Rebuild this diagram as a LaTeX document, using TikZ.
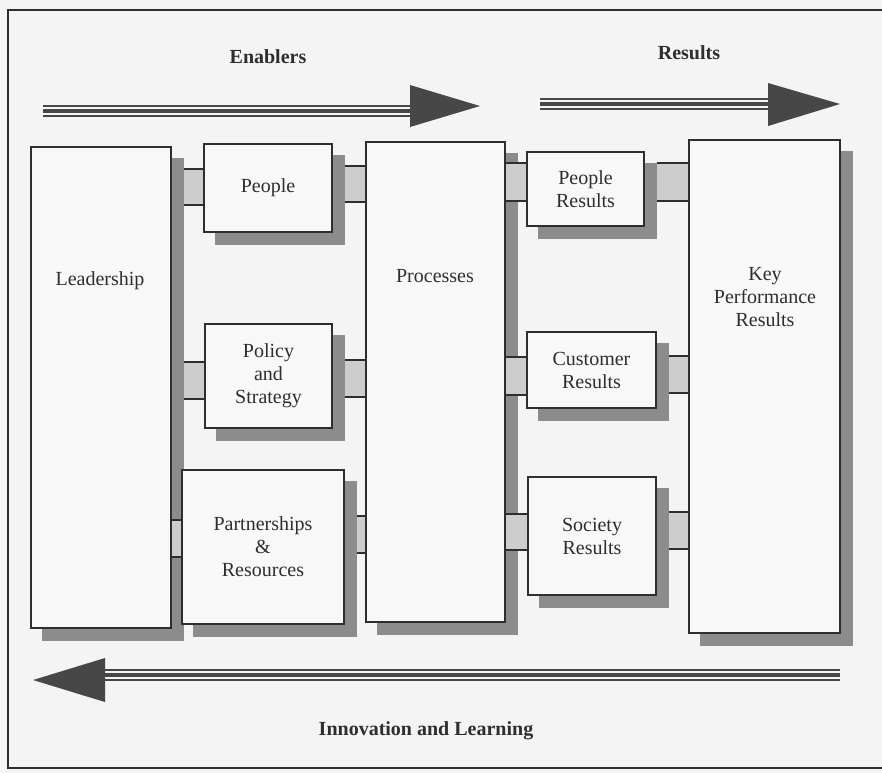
\documentclass[tikz,border=0pt]{standalone}
\usepackage{fontspec}
\setmainfont{Liberation Serif}

\pgfdeclarelayer{bg}
\pgfdeclarelayer{shadowlayer}
\pgfdeclarelayer{linklayer}
\pgfsetlayers{bg,shadowlayer,linklayer,main}

\definecolor{ink}{HTML}{2E2E2E}
\definecolor{paper}{HTML}{F4F4F4}
\definecolor{panelfill}{HTML}{F8F8F8}
\definecolor{shade}{HTML}{8C8C8C}
\definecolor{linkfill}{HTML}{CDCDCD}
\definecolor{arrowink}{HTML}{474747}

\tikzset{
  panelbox/.style={draw=ink, line width=1.3pt, fill=panelfill, inner sep=0pt,
    align=center, text=ink, font=\fontsize{20}{23}\selectfont},
  caption/.style={text=ink, align=center, font=\fontsize{20}{23}\selectfont},
  heading/.style={text=ink, font=\fontsize{20}{24}\selectfont\bfseries},
  shadowfill/.style={fill=shade},
  linkbody/.style={fill=linkfill},
  linkedge/.style={draw=ink, line width=1.1pt},
  arrowhead/.style={fill=arrowink},
  frameline/.style={draw=ink, line width=1.4pt}
}

% a framed panel with its offset shadow; (name-s) marks the shadow's right edge
\newcommand{\panel}[6]{%
  \node[panelbox, minimum width={(#4)-(#2)}, minimum height={(#5)-(#3)}]
    (#1) at ({((#2)+(#4))/2},{((#3)+(#5))/2}) {#6};
  \begin{pgfonlayer}{shadowlayer}
    \fill[shadowfill] ([shift={(12,12)}]#1.north west) rectangle ([shift={(12,12)}]#1.south east);
  \end{pgfonlayer}
  \coordinate (#1-s) at ([xshift=12pt]#1.east);
}

% a grey link bar between two panels, outlined on top and bottom
\newcommand{\linkbar}[4]{%
  \begin{pgfonlayer}{linklayer}
    \fill[linkbody] (#1 |- 0,#3) rectangle (#2 |- 0,#4);
    \draw[linkedge] (#1 |- 0,#3) -- (#2 |- 0,#3) (#1 |- 0,#4) -- (#2 |- 0,#4);
  \end{pgfonlayer}}

% thin-thick-thin arrow shaft: x from, x to, top y
\newcommand{\triplerule}[3]{%
  \fill[arrowink] (#1,#3) rectangle (#2,{#3+12});
  \fill[paper] (#1,{#3+2}) rectangle (#2,{#3+4});
  \fill[paper] (#1,{#3+8}) rectangle (#2,{#3+10});
}

\begin{document}
\begin{tikzpicture}[x=1pt,y=-1pt]
  \useasboundingbox (0,0) rectangle (882,772);
  \clip (0,0) rectangle (882,772);
  \begin{pgfonlayer}{bg}
    \fill[paper] (-5,-5) rectangle (890,780);
  \end{pgfonlayer}

  % outer frame (runs off the right edge)
  \draw[frameline] (900,10) -- (8,10) -- (8,768) -- (900,768);

  % headings
  \node[heading] (enablers) at (268,57) {Enablers};
  \node[heading] (results) at (689,53) {Results};
  \node[heading] (innov) at (426,731) {Innovation and Learning};

  % flow arrows
  \triplerule{43}{412}{105}
  \fill[arrowhead] (410,85) -- (480,106) -- (410,127) -- cycle;
  \triplerule{540}{770}{98}
  \fill[arrowhead] (768,83) -- (840,104) -- (768,126) -- cycle;
  \triplerule{103}{840}{669}
  \fill[arrowhead] (105,658) -- (33,680) -- (105,702) -- cycle;

  % panels
  \panel{lead}{31}{147}{171}{628}{}
  \node[caption] (lead-t) at (100,281) {Leadership};
  \panel{people}{204}{144}{332}{232}{People}
  \panel{policy}{205}{324}{332}{428}{Policy\\and\\Strategy}
  \panel{partner}{182}{470}{344}{624}{Partnerships\\\&\\Resources}
  \panel{proc}{366}{142}{505}{622}{}
  \node[caption] (proc-t) at (435,276) {Processes};
  \panel{presults}{527}{152}{644}{226}{People\\Results}
  \panel{cresults}{527}{332}{656}{408}{Customer\\Results}
  \panel{sresults}{528}{477}{656}{595}{Society\\Results}
  \panel{kpr}{689}{140}{840}{633}{}
  \node[caption] (kpr-t) at (765,297) {Key\\Performance\\Results};

  % link bars
  \linkbar{lead-s}{people}{169}{205}
  \linkbar{people-s}{proc}{166}{202}
  \linkbar{lead-s}{policy}{362}{399}
  \linkbar{policy-s}{proc}{360}{397}
  \linkbar{lead}{partner}{520}{557}
  \linkbar{partner-s}{proc}{516}{553}
  \linkbar{proc}{presults}{163}{201}
  \linkbar{presults-s}{kpr}{163}{201}
  \linkbar{proc}{cresults}{357}{395}
  \linkbar{cresults-s}{kpr}{356}{393}
  \linkbar{proc}{sresults}{514}{550}
  \linkbar{sresults-s}{kpr}{512}{549}
\end{tikzpicture}
\end{document}
